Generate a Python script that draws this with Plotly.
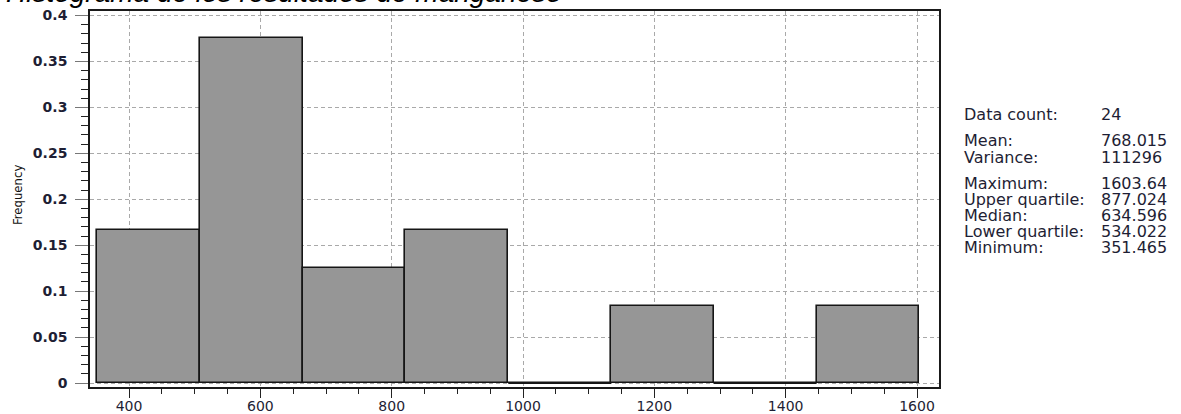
import plotly.graph_objects as go

# Histogram of manganese results: 8 equal-width bins between min and max
bin_edges = [351.465, 507.987, 664.509, 821.031, 977.553, 1134.074, 1290.596, 1447.118, 1603.64]
bin_counts = [4, 9, 3, 4, 0, 2, 0, 2]
data_count = 24

x_tick_values = [400, 600, 800, 1000, 1200, 1400, 1600]
y_tick_values = [0, 0.05, 0.1, 0.15, 0.2, 0.25, 0.3, 0.35, 0.4]
y_tick_labels = ["0", "0.05", "0.1", "0.15", "0.2", "0.25", "0.3", "0.35", "0.4"]

stat_labels = ["Data count:", "Mean:", "Variance:", "Maximum:", "Upper quartile:",
               "Median:", "Lower quartile:", "Minimum:"]
stat_values = ["24", "768.015", "111296", "1603.64", "877.024", "634.596", "534.022", "351.465"]

title_text = "Histograma de los resultados de manganeso"
y_title = "Frequency"

# ---- derived bar geometry ----
centers = [(a + b) / 2 for a, b in zip(bin_edges[:-1], bin_edges[1:])]
widths = [b - a for a, b in zip(bin_edges[:-1], bin_edges[1:])]
freqs = [c / data_count for c in bin_counts]

W, H = 1181, 414
L, R, T, B = 90, 939, 11, 387  # plot area in pixels


def px_x(px):
    return (px - L) / (R - L)


def px_y(py):
    return (B - py) / (B - T)


fig = go.Figure()

fig.add_trace(go.Bar(
    x=centers, y=freqs, width=widths,
    marker=dict(color="#969696", line=dict(color="#161616", width=1.6)),
    showlegend=False, hoverinfo="skip",
))

# empty bins are outlined along the baseline
for a, b, f in zip(bin_edges[:-1], bin_edges[1:], freqs):
    if f == 0:
        fig.add_trace(go.Scatter(
            x=[a, b], y=[f, f], mode="lines",
            line=dict(color="#161616", width=1.8),
            showlegend=False, hoverinfo="skip", cliponaxis=False,
        ))

text_color = "#1e1e34"
grid = dict(showgrid=True, gridcolor="#a9a9a9", gridwidth=1, griddash="4px,3px")

fig.update_xaxes(
    range=[340.6, 1633.5], automargin=False,
    tickmode="array", tickvals=x_tick_values,
    ticks="outside", ticklen=9, tickwidth=1.3, tickcolor="#222222",
    minor=dict(tickmode="array", tickvals=list(range(400, 1601, 50)),
               ticks="outside", ticklen=5, tickwidth=1.2, tickcolor="#222222", showgrid=False),
    showline=True, linecolor="#1a1a1a", linewidth=1.6, mirror=True,
    tickfont=dict(family="DejaVu Sans", size=14, color=text_color),
    ticklabelstandoff=-4,
    zeroline=False, **grid,
)
fig.update_yaxes(
    range=[-0.00435, 0.4049], automargin=False,
    tickmode="array", tickvals=y_tick_values, ticktext=y_tick_labels,
    ticks="outside", ticklen=13, tickwidth=1.3, tickcolor="#777777",
    minor=dict(dtick=0.01, ticks="outside", ticklen=7, tickwidth=1.2,
               tickcolor="#222222", showgrid=False),
    showline=True, linecolor="#1a1a1a", linewidth=1.6, mirror=True,
    tickfont=dict(family="DejaVu Sans", size=14, color=text_color, weight="bold"),
    ticklabelstandoff=5,
    zeroline=False, **grid,
)

annotations = [
    dict(text=title_text, xref="paper", yref="paper", x=px_x(4), y=px_y(10),
         xanchor="left", yanchor="bottom", showarrow=False,
         font=dict(family="Liberation Sans", size=28, style="italic", color="#000000")),
    dict(text=y_title, xref="paper", yref="paper", x=px_x(17), y=px_y(195),
         xanchor="center", yanchor="middle", textangle=-90, showarrow=False,
         font=dict(family="DejaVu Sans Condensed", size=13, color="#111111")),
]

stat_rows_y = [114, 140, 157.5, 183.3, 199.4, 215.6, 231.8, 247.9]
for lab, val, yy in zip(stat_labels, stat_values, stat_rows_y):
    annotations.append(dict(text=lab, xref="paper", yref="paper", x=px_x(962), y=px_y(yy),
                            xanchor="left", yanchor="middle", showarrow=False,
                            font=dict(family="DejaVu Sans", size=16, color=text_color)))
    annotations.append(dict(text=val, xref="paper", yref="paper", x=px_x(1099), y=px_y(yy),
                            xanchor="left", yanchor="middle", showarrow=False,
                            font=dict(family="DejaVu Sans", size=16, color=text_color)))

fig.update_layout(
    width=W, height=H,
    margin=dict(l=L, r=W - R, t=T, b=H - B, pad=0, autoexpand=False),
    paper_bgcolor="white", plot_bgcolor="white",
    bargap=0, showlegend=False,
    annotations=annotations,
)

fig.write_html("out.html", config={"displayModeBar": False})
